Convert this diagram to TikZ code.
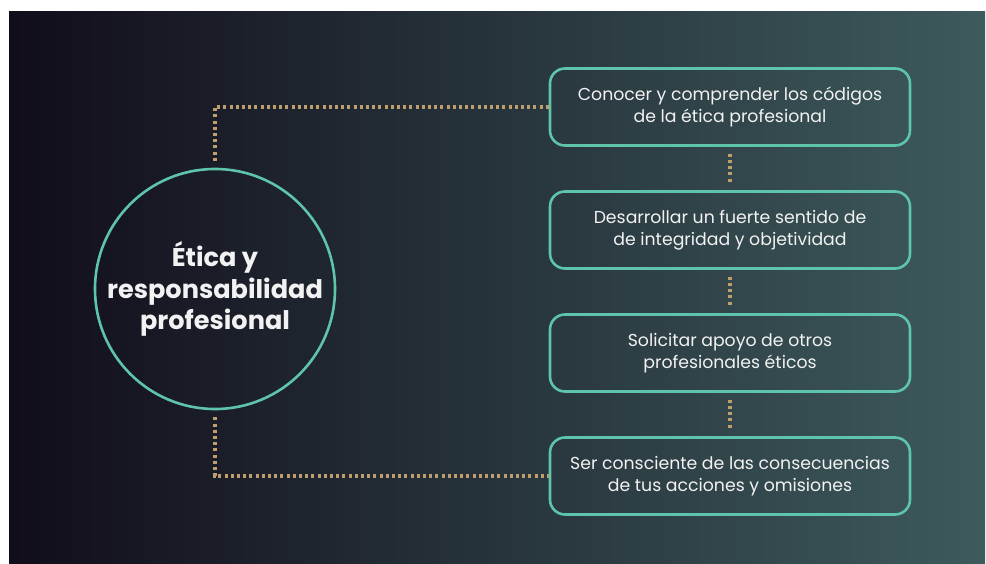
\documentclass[tikz,border=0pt]{standalone}
\usepackage{fontspec}
\setmainfont{Poppins}
\definecolor{bgleft}{HTML}{110D1A}
\definecolor{bgright}{HTML}{3D5A5C}
\definecolor{tealline}{HTML}{5EC4AA}
\definecolor{dotcol}{HTML}{BF9E6E}
\definecolor{txt}{HTML}{F2F2F2}
\begin{document}
\begin{tikzpicture}[x=1pt,y=-1pt,
  stepbox/.style={draw=tealline, line width=2.6pt, rounded corners=15pt,
    minimum width=360pt, minimum height=77pt, text=txt, align=center,
    font=\fontsize{17.3}{21.5}\selectfont},
  hub/.style={circle, draw=tealline, line width=2.6pt, minimum size=240pt,
    inner sep=0pt, text=txt, align=center,
    font=\bfseries\fontsize{25.6}{31.5}\selectfont},
  dots/.style={draw=dotcol, line width=3.2pt, dash pattern=on 3pt off 3.2pt}]
\useasboundingbox (0,0) rectangle (986,563);
\fill[white] (0,0) rectangle (986,563);
\shade[left color=bgleft, right color=bgright] (9,11) rectangle (985,563);
\node[hub] (c) at (215,289) {Ética y\\responsabilidad\\profesional};
\node[stepbox] (b1) at (730,107) {Conocer y comprender los códigos\\de la ética profesional};
\node[stepbox] (b2) at (730,230) {Desarrollar un fuerte sentido de\\de integridad y objetividad};
\node[stepbox] (b3) at (730,353) {Solicitar apoyo de otros\\profesionales éticos};
\node[stepbox] (b4) at (730,476) {Ser consciente de las consecuencias\\de tus acciones y omisiones};
\draw[dots, shorten <=7pt] (c.north) |- (b1.west);
\draw[dots, shorten <=7pt] (c.south) |- (b4.west);
\draw[dots, shorten <=7pt, shorten >=7pt] (b1.south) -- (b2.north);
\draw[dots, shorten <=7pt, shorten >=7pt] (b2.south) -- (b3.north);
\draw[dots, shorten <=7pt, shorten >=7pt] (b3.south) -- (b4.north);
\end{tikzpicture}
\end{document}
